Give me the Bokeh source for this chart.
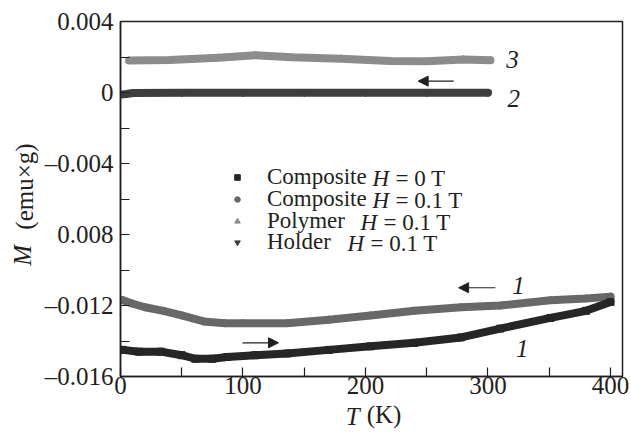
from bokeh.plotting import figure
from bokeh.models import (Range1d, FixedTicker, Label, Arrow, NormalHead, Legend, LegendItem,
                          LinearAxis)
from bokeh.embed import file_html
from bokeh.resources import INLINE

# ---- data ----
T_comp0 = [2, 15, 33, 50, 61, 75, 87, 110, 136, 170, 204, 240, 278, 310, 351, 380, 400]
M_comp0 = [-0.0145, -0.0146, -0.0146, -0.0148, -0.0150, -0.0150, -0.0149, -0.0148, -0.0147,
           -0.0145, -0.0143, -0.0141, -0.0138, -0.0133, -0.0127, -0.0123, -0.0118]

T_comp01 = [2, 10, 20, 35, 50, 68, 85, 100, 136, 170, 204, 240, 278, 310, 351, 380, 400]
M_comp01 = [-0.0117, -0.0119, -0.0121, -0.0123, -0.01256, -0.0129, -0.0130, -0.0130, -0.0130,
            -0.0128, -0.01256, -0.0123, -0.0121, -0.0120, -0.0117, -0.0116, -0.0115]

T_poly = [7, 40, 80, 110, 140, 180, 220, 250, 280, 302]
M_poly = [0.00180, 0.00183, 0.00196, 0.00210, 0.00198, 0.00190, 0.00177, 0.00176, 0.00186, 0.00182]

T_hold = [0, 5, 10, 50, 100, 150, 200, 250, 300]
M_hold = [-0.00012, -0.00008, -0.00003, -0.00002, -0.00002, -0.00002, -0.00002, -0.00002, -0.00002]

x_ticks = [0, 50, 100, 150, 200, 250, 300, 350, 400]
x_tick_labels = ["0", "", "100", "", "200", "", "300", "", "400"]
y_ticks = [-0.016, -0.014, -0.012, -0.01, -0.008, -0.006, -0.004, -0.002, 0.0, 0.002, 0.004]
y_tick_labels = ["\u20130.016", "", "\u20130.012", "", "0.008", "", "\u20130.004", "", "0", "", "0.004"]

legend_words = ["Composite", "Composite", "Polymer", "Holder"]
legend_rest = ["= 0 T", "= 0.1 T", "= 0.1 T", "= 0.1 T"]

FONT = "Liberation Serif"
INK = "#231f20"
NB = "\u00a0"

p = figure(width=631, height=432, output_backend="svg", toolbar_location=None,
           x_range=Range1d(0, 409.8), y_range=Range1d(-0.016, 0.004),
           min_border_left=120, min_border_right=9, min_border_top=21, min_border_bottom=54)
p.xgrid.visible = False
p.ygrid.visible = False
p.outline_line_color = INK
p.outline_line_width = 1.5
p.background_fill_color = "white"

for ax, ticks, labels in ((p.xaxis[0], x_ticks, x_tick_labels), (p.yaxis[0], y_ticks, y_tick_labels)):
    ax.ticker = FixedTicker(ticks=ticks)
    ax.major_label_overrides = {t: l for t, l in zip(ticks, labels)}
    ax.major_tick_in = 9
    ax.major_tick_out = 0
    ax.minor_tick_line_color = None
    ax.axis_line_color = INK
    ax.axis_line_width = 1.5
    ax.major_tick_line_color = INK
    ax.major_tick_line_width = 1.2
    ax.major_label_text_font = FONT
    ax.major_label_text_font_size = "25px"
    ax.major_label_text_color = INK
    ax.axis_label_text_font = FONT
    ax.axis_label_text_font_size = "25px"
    ax.axis_label_text_font_style = "normal"
    ax.axis_label_text_color = INK
p.yaxis[0].major_label_standoff = 7
p.xaxis[0].major_label_standoff = 0
p.yaxis[0].axis_label = NB * 4 + "(emu\u00d7g)"
p.yaxis[0].axis_label_standoff = 4
p.xaxis[0].axis_label = NB * 4 + "(K)"
p.xaxis[0].axis_label_standoff = 4


def title_axis(text, nb_after):
    a = LinearAxis(ticker=FixedTicker(ticks=[]), axis_label=text + NB * nb_after,
                   axis_label_standoff=-28, axis_line_color=None,
                   major_tick_line_color=None, minor_tick_line_color=None,
                   major_tick_in=0, major_tick_out=0, minor_tick_in=0, minor_tick_out=0,
                   major_label_standoff=0, axis_label_text_font=FONT,
                   axis_label_text_font_size="25px", axis_label_text_font_style="italic",
                   axis_label_text_color=INK)
    return a


p.add_layout(title_axis("M", 18), "left")
p.add_layout(title_axis("T", 6), "below")

# ---- series ----
series = [
    (T_poly, M_poly, "#8c8c8c", "triangle"),
    (T_hold, M_hold, "#3e3e3e", "inverted_triangle"),
    (T_comp01, M_comp01, "#686868", "circle"),
    (T_comp0, M_comp0, "#262626", "square"),
]
scatter_r = {}
for T, M, col, mk in series:
    p.line(T, M, line_color=col, line_width=8, line_cap="round", line_join="round")
    scatter_r[mk] = p.scatter(T, M, marker=mk, size=7, fill_color=col, line_color=col)

# ---- legend (one row each, for exact placement) ----
rows_page_y = [180, 202, 223.5, 245]
frame_bottom_page = 378
order = ["square", "circle", "triangle", "inverted_triangle"]
h_x = [252, 252, 240, 227]
rest_x = [275, 275, 263, 250]
for i, mk in enumerate(order):
    cy = frame_bottom_page - rows_page_y[i]
    leg = Legend(items=[LegendItem(label=legend_words[i], renderers=[scatter_r[mk]])],
                 location=(110, cy - 12), padding=0, margin=0, spacing=0,
                 glyph_width=14, glyph_height=14, label_height=14, label_standoff=23,
                 border_line_color=None, background_fill_alpha=0,
                 label_text_font=FONT, label_text_font_size="23px", label_text_color=INK,
                 label_text_baseline="middle")
    p.add_layout(leg)
    p.add_layout(Label(x=h_x[i], y=cy, x_units="screen", y_units="screen", text="H",
                       text_font=FONT, text_font_style="italic", text_font_size="23px",
                       text_color=INK, text_baseline="middle"))
    p.add_layout(Label(x=rest_x[i], y=cy, x_units="screen", y_units="screen", text=legend_rest[i],
                       text_font=FONT, text_font_size="23px",
                       text_color=INK, text_baseline="middle"))

# ---- arrows ----
arrows = [((272, 0.00064), (243, 0.00064)),
          ((306, -0.0110), (276, -0.0110)),
          ((99.6, -0.0141), (129, -0.0141))]
for (x0, y0), (x1, y1) in arrows:
    p.add_layout(Arrow(x_start=x0, y_start=y0, x_end=x1, y_end=y1, line_color=INK, line_width=1.2,
                       end=NormalHead(size=10, fill_color=INK, line_color=INK)))

# ---- curve numbers ----
curve_labels = [(320, 0.00187, "3"), (321, -0.00031, "2"), (325, -0.0109, "1"), (328, -0.01443, "1")]
for x, y, t in curve_labels:
    p.add_layout(Label(x=x, y=y, text=t, text_font=FONT, text_font_style="italic",
                       text_font_size="25px", text_color=INK, text_align="center",
                       text_baseline="middle"))

open("out.html", "w").write(file_html(p, INLINE))
